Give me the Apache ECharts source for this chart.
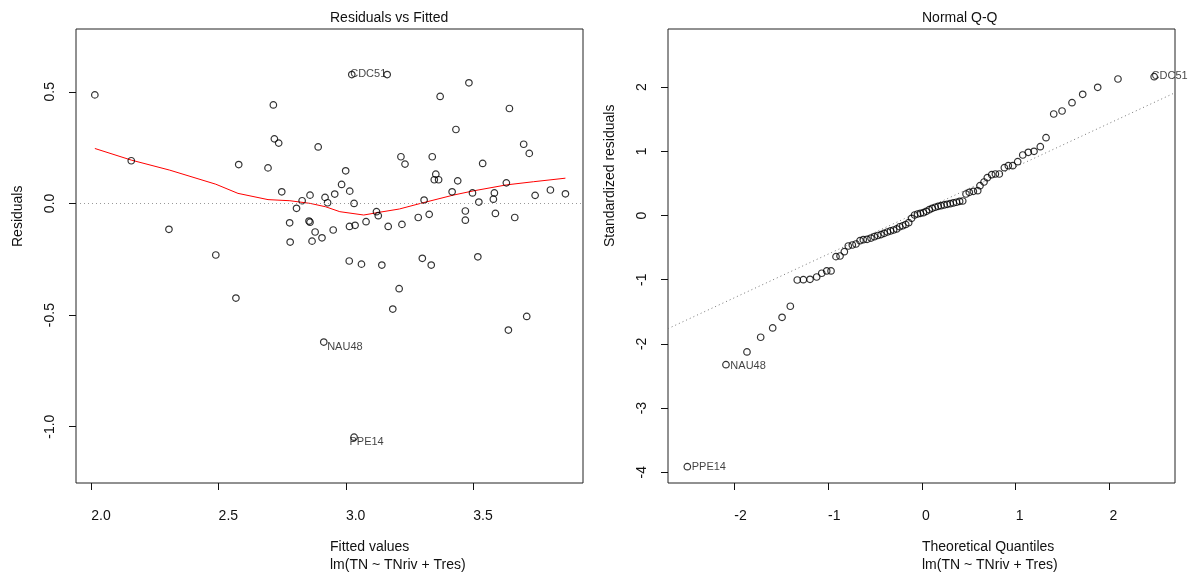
<!DOCTYPE html>
<html><head><meta charset="utf-8">
<script src="https://cdn.jsdelivr.net/npm/echarts@6/dist/echarts.min.js"></script>
<style>html,body{margin:0;padding:0;background:#fff}#c{width:1192px;height:574px}</style>
</head><body><div id="c"></div>
<script>
// ---- Residuals vs Fitted ----
const fittedValues = [2.014,2.157,2.305,2.489,2.579,2.694,2.715,2.719,2.736,2.891,2.748,2.828,2.806,2.859,2.918,2.928,2.956,2.779,2.855,2.859,2.879,2.906,2.867,2.781,2.950,2.568,2.913,3.023,3.162,3.483,3.370,3.642,3.432,3.698,3.720,3.216,3.339,3.232,3.537,2.999,3.353,3.347,3.364,3.439,2.983,3.630,3.015,3.417,3.497,3.583,3.803,3.862,3.743,3.579,3.307,3.032,3.522,3.120,3.127,3.079,3.327,3.469,3.469,3.587,3.663,3.284,3.220,3.166,3.014,3.036,3.013,3.061,3.141,3.300,3.335,3.518,3.209,3.184,3.710,3.638,3.032];
const residuals = [0.486,0.191,-0.116,-0.231,0.174,0.159,0.441,0.289,0.270,0.253,0.052,0.012,-0.022,0.037,0.027,0.003,0.042,-0.087,-0.079,-0.084,-0.128,-0.154,-0.169,-0.173,-0.119,-0.424,-0.621,0.577,0.577,0.540,0.479,0.425,0.331,0.265,0.224,0.209,0.209,0.176,0.179,0.146,0.131,0.106,0.106,0.101,0.085,0.092,0.055,0.052,0.047,0.047,0.060,0.043,0.036,0.019,0.015,0.000,0.006,-0.037,-0.055,-0.082,-0.049,-0.034,-0.075,-0.045,-0.063,-0.063,-0.094,-0.103,-0.103,-0.098,-0.258,-0.272,-0.276,-0.246,-0.276,-0.239,-0.382,-0.473,-0.506,-0.567,-1.047];
const residIds = {26:'NAU48', 27:'CDC51', 80:'PPE14'};
const lowessX = [2.014,2.157,2.308,2.489,2.576,2.694,2.78,2.86,2.92,2.976,3.07,3.13,3.21,3.303,3.421,3.50,3.631,3.736,3.862];
const lowessY = [0.246,0.194,0.149,0.086,0.045,0.017,0.012,0.0,-0.015,-0.037,-0.052,-0.040,-0.025,0.003,0.037,0.056,0.083,0.097,0.113];
const fittedTicks = [2.0,2.5,3.0,3.5];
const residTicks = [-1.0,-0.5,0.0,0.5];

// ---- Normal Q-Q ----
const theoreticalQuantiles = [-2.501,-2.089,-1.865,-1.719,-1.591,-1.491,-1.403,-1.329,-1.264,-1.193,-1.122,-1.068,-1.015,-0.969,-0.916,-0.873,-0.827,-0.785,-0.742,-0.703,-0.660,-0.625,-0.585,
 -0.543,-0.507,-0.471,-0.436,-0.402,-0.368,-0.335,-0.302,-0.269,-0.237,-0.204,-0.173,-0.141,-0.110,-0.078,-0.047,-0.016,0.016,0.047,0.078,0.110,0.141,0.173,0.204,0.237,0.269,0.302,0.335,0.368,0.402,
 0.435,0.470,0.505,0.548,0.595,0.619,0.662,0.697,0.744,0.783,0.825,0.879,0.921,0.968,1.021,1.075,1.134,1.195,1.262,1.323,1.405,1.494,1.600,1.714,1.874,2.090,2.476];
const standardizedResiduals = [-3.913,-2.324,-2.126,-1.897,-1.752,-1.586,-1.414,-1.005,-1.000,-0.994,-0.958,-0.900,-0.864,-0.864,-0.641,-0.631,-0.564,-0.475,-0.460,-0.444,-0.392,-0.377,-0.371,
 -0.352,-0.330,-0.312,-0.298,-0.278,-0.257,-0.241,-0.226,-0.210,-0.175,-0.160,-0.140,-0.112,-0.044,0.008,0.023,0.034,0.044,0.065,0.090,0.112,0.128,0.143,0.153,0.164,0.174,0.184,0.195,0.206,0.221,
 0.226,0.335,0.361,0.377,0.386,0.464,0.522,0.589,0.636,0.646,0.646,0.745,0.776,0.776,0.838,0.942,0.984,1.000,1.072,1.212,1.581,1.628,1.757,1.888,1.997,2.126,2.162];
const qqIds = {0:'PPE14', 1:'NAU48', 79:'CDC51'};
const qqLineIntercept = 0.078;
const qqLineSlope = 0.680;
const quantileTicks = [-2,-1,0,1,2];
const stdResidTicks = [-4,-3,-2,-1,0,1,2];

// ---- layout / style ----
const FONT = '"Liberation Sans", Arial, sans-serif';
const G1 = {left:76, top:29, width:507, height:454};
const G2 = {left:668, top:29, width:507, height:454};
const X1 = [1.940, 3.931], Y1 = [-1.252, 0.781];
const X2 = [-2.707, 2.698], Y2 = [-4.167, 2.905];
const labelOffsets1 = {CDC51:[-1,0], NAU48:[4,5], PPE14:[-4,5]};
const labelOffsets2 = {CDC51:[-2,0], NAU48:[5,2], PPE14:[5,1]};
const SYM = 6.5;

function pointData(xs, ys, ids, offs) {
  return xs.map((x, i) => {
    const item = {value:[x, ys[i]]};
    if (ids[i]) {
      const o = offs[ids[i]];
      item.label = {show:true, formatter:ids[i], position:[o[0] + SYM/2, o[1] + SYM/2],
        align:'left', verticalAlign:'middle', fontSize:11, fontFamily:FONT, color:'#111'};
    }
    return item;
  });
}

function xAxisCfg(idx, range, ticks, fmt) {
  return {type:'value', gridIndex:idx, min:range[0], max:range[1], scale:true, position:'bottom',
    axisLine:{show:false, onZero:false}, splitLine:{show:false},
    axisTick:{show:true, customValues:ticks, length:7, lineStyle:{color:'#111', width:1}},
    axisLabel:{customValues:ticks, formatter:fmt, margin:33, align:'left', verticalAlign:'middle',
      fontSize:14, fontFamily:FONT, color:'#111'}};
}
function yAxisCfg(idx, range, ticks, fmt) {
  return {type:'value', gridIndex:idx, min:range[0], max:range[1], scale:true, position:'left',
    axisLine:{show:false, onZero:false}, splitLine:{show:false},
    axisTick:{show:true, customValues:ticks, length:7, lineStyle:{color:'#111', width:1}},
    axisLabel:{customValues:ticks, formatter:fmt, rotate:90, margin:26, align:'center', verticalAlign:'middle',
      fontSize:14, fontFamily:FONT, color:'#111'}};
}

function txt(x, y, text, rot) {
  return {type:'text', x:x, y:y, rotation:rot || 0, silent:true,
    style:{text:text, font:'14px ' + FONT, fill:'#111', align:'left', textAlign:'left',
      verticalAlign:'middle', textVerticalAlign:'middle'}};
}

const chart = echarts.init(document.getElementById('c'), null, {renderer:'canvas'});
chart.setOption({
  animation:false,
  backgroundColor:'#fff',
  grid:[
    Object.assign({show:true, borderColor:'#222', borderWidth:1, backgroundColor:'transparent'}, G1),
    Object.assign({show:true, borderColor:'#222', borderWidth:1, backgroundColor:'transparent'}, G2)
  ],
  xAxis:[
    xAxisCfg(0, X1, fittedTicks, v => Number(v).toFixed(1)),
    xAxisCfg(1, X2, quantileTicks, v => String(Math.round(v)))
  ],
  yAxis:[
    yAxisCfg(0, Y1, residTicks, v => Number(v).toFixed(1)),
    yAxisCfg(1, Y2, stdResidTicks, v => String(Math.round(v)))
  ],
  graphic:[
    txt(330, 18, 'Residuals vs Fitted'),
    txt(330, 547, 'Fitted values'),
    txt(330, 565, 'lm(TN ~ TNriv + Tres)'),
    txt(18, 247, 'Residuals', Math.PI/2),
    txt(922, 18, 'Normal Q-Q'),
    txt(922, 547, 'Theoretical Quantiles'),
    txt(922, 565, 'lm(TN ~ TNriv + Tres)'),
    txt(610, 247, 'Standardized residuals', Math.PI/2)
  ],
  series:[
    {type:'line', xAxisIndex:0, yAxisIndex:0, data:lowessX.map((x,i)=>[x, lowessY[i]]),
     showSymbol:false, symbol:'none', smooth:false, lineStyle:{color:'#ff0000', width:1}, silent:true, z:3,
     markLine:{silent:true, symbol:'none', label:{show:false},
       lineStyle:{type:[1,3], color:'#999', width:1}, data:[{yAxis:0}]}},
    {type:'scatter', xAxisIndex:0, yAxisIndex:0, symbol:'circle', symbolSize:SYM, silent:true, z:4,
     itemStyle:{color:'rgba(0,0,0,0)', borderColor:'#000', borderWidth:1.2},
     data:pointData(fittedValues, residuals, residIds, labelOffsets1)},
    {type:'line', xAxisIndex:1, yAxisIndex:1, showSymbol:false, symbol:'none', silent:true, z:3,
     lineStyle:{type:[1,3], color:'#777', width:1},
     data:[[X2[0], qqLineIntercept + qqLineSlope*X2[0]], [X2[1], qqLineIntercept + qqLineSlope*X2[1]]]},
    {type:'scatter', xAxisIndex:1, yAxisIndex:1, symbol:'circle', symbolSize:SYM, silent:true, z:4,
     itemStyle:{color:'rgba(0,0,0,0)', borderColor:'#000', borderWidth:1.2},
     data:pointData(theoreticalQuantiles, standardizedResiduals, qqIds, labelOffsets2)}
  ]
});
</script></body></html>
